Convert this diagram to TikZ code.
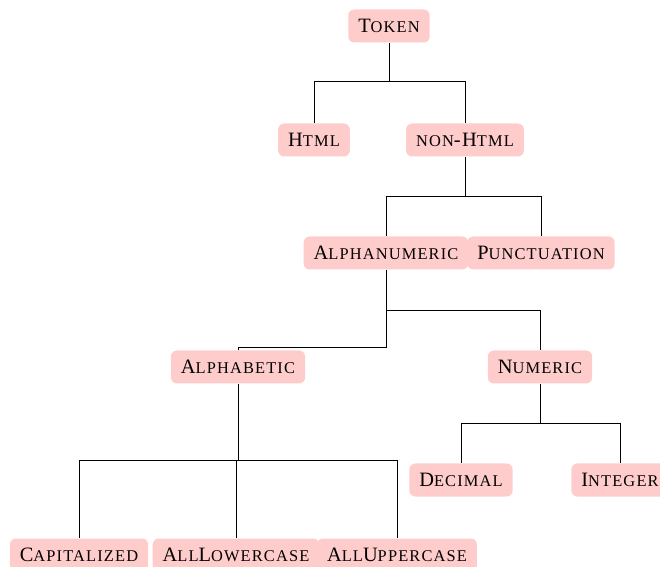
\documentclass[tikz,border=0pt]{standalone}
\usepackage{fontspec}
\usepackage{tikz}
\newfontfamily\treefont{Liberation Serif}[LetterSpace=7]
\newcommand\smc[1]{{\fontsize{8.2pt}{9pt}\selectfont #1}}

\begin{document}
\begin{tikzpicture}[x=0.5pt, y=-0.5pt,
	cat/.style={rounded corners=3pt, fill=red!20, font=\treefont\fontsize{10.2pt}{12pt}\selectfont,
		minimum height=16.5pt, inner xsep=5pt, inner ysep=0pt},
	fork/.style={black, line width=0.5pt}]
	\useasboundingbox (0,0) rectangle (660,567);
	\path (389,26) node(token)[cat]{T\smc{OKEN}}
	(314,140) node(html)[cat]{H\smc{TML}}
	(465,140) node(nonhtml)[cat]{\smc{NON}-H\smc{TML}}
	(386,253) node(alnum)[cat]{A\smc{LPHANUMERIC}}
	(541,253) node(punct)[cat]{P\smc{UNCTUATION}}
	(238,367) node(alpha)[cat]{A\smc{LPHABETIC}}
	(540,367) node(numeric)[cat]{N\smc{UMERIC}}
	(461,480) node(decimal)[cat]{D\smc{ECIMAL}}
	(620,480) node(integer)[cat]{I\smc{NTEGER}}
	(79,555) node(capital)[cat]{C\smc{APITALIZED}}
	(236,555) node(lower)[cat]{A\smc{LL}L\smc{OWERCASE}}
	(397,555) node(upper)[cat]{A\smc{LL}U\smc{PPERCASE}};
	\draw [fork] (token.south) -- ++(0,39) -| (html.north);
	\draw [fork] (token.south) -- ++(0,39) -| (nonhtml.north);
	\draw [fork] (nonhtml.south) -- ++(0,40) -| (alnum.north);
	\draw [fork] (nonhtml.south) -- ++(0,40) -| (punct.north);
	\draw [fork] (alnum.south) -- ++(0,78) -| (alpha.north);
	\draw [fork] (alnum.south) -- ++(0,41) -| (numeric.north);
	\draw [fork] (numeric.south) -- ++(0,40) -| (decimal.north);
	\draw [fork] (numeric.south) -- ++(0,40) -| (integer.north);
	\draw [fork] (alpha.south) -- ++(0,77) -| (capital.north);
	\draw [fork] (alpha.south) -- ++(0,77) -| (lower.north);
	\draw [fork] (alpha.south) -- ++(0,77) -| (upper.north);
\end{tikzpicture}
\end{document}
